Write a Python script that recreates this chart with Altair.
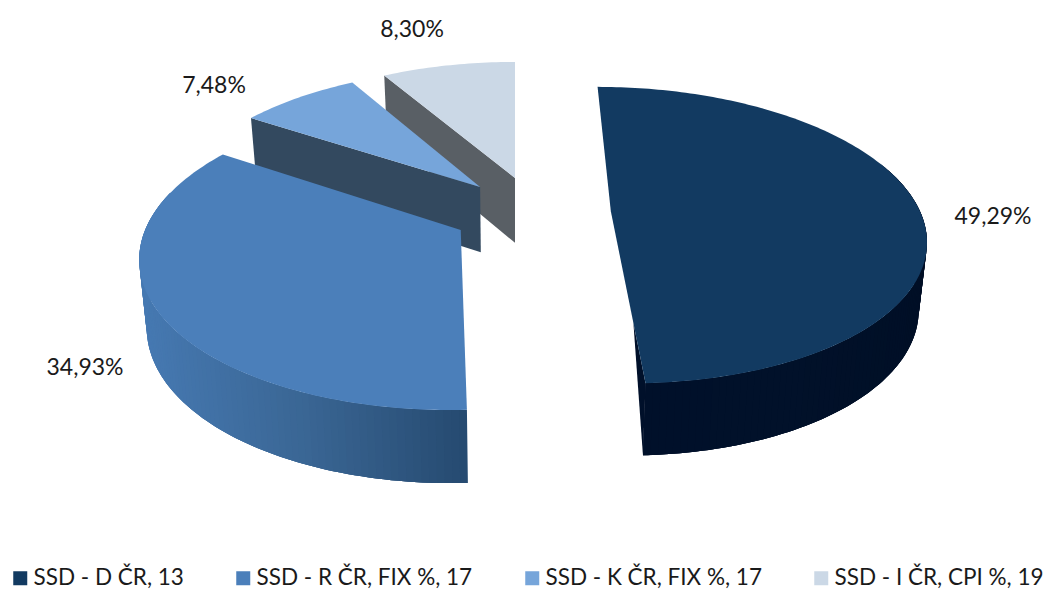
import math
import altair as alt
import pandas as pd

categories = ["SSD - D ČR, 13", "SSD - R ČR, FIX %, 17", "SSD - K ČR, FIX %, 17", "SSD - I ČR, CPI %, 19"]
shares = [49.29, 34.93, 7.48, 8.30]
share_labels = ["49,29%", "34,93%", "7,48%", "8,30%"]
top_colors = ["#123A61", "#4B7FBA", "#76A5DA", "#CBD8E6"]

# --- perspective model of the exploded 3D pie (layout, not data) ---
X0, YV, F, G, D = 515.0, -688.0, 1925.0, 5600.0, 6.227
DEPTH, BOTTOM_SHRINK = 165.0, 0.98
OFFSETS = [(0.31, 0.0), (-0.172, 0.127), (-0.116, -0.173), (0.0, -0.24)]
LABEL_ANCHORS = [(993, 217), (85, 368), (214, 86), (412, 30)]


def project(x, y, bottom=False):
    d = D - y
    sx = X0 + F * x / d
    sy = YV + G / d
    if bottom:
        sx = X0 + (sx - X0) * BOTTOM_SHRINK
        sy += DEPTH / math.sqrt(d)
    return [sx, sy]


def rim(i, deg, bottom=False):
    ox, oy = OFFSETS[i]
    t = math.radians(deg)
    return project(ox + math.sin(t), oy - math.cos(t), bottom)


def feature(ring, **props):
    ring = ring + [ring[0]]
    return {"type": "Feature", "geometry": {"type": "Polygon", "coordinates": [ring]}, "properties": props}


def mix(a, b, t):
    ca = [int(a[k:k + 2], 16) for k in (1, 3, 5)]
    cb = [int(b[k:k + 2], 16) for k in (1, 3, 5)]
    return "#" + "".join(f"{round(p + (q - p) * t):02x}" for p, q in zip(ca, cb))


edges, a = [], 0.0
for s in shares:
    edges.append((a, a + s * 3.6))
    a += s * 3.6


def flat_face(i, deg, color):
    ox, oy = OFFSETS[i]
    apex_t, apex_b = project(ox, oy), project(ox, oy, True)
    return feature([apex_t, rim(i, deg), rim(i, deg, True), apex_b], fill=color)


def sliver_face(i, deg, color, t=0.65):
    ox, oy = OFFSETS[i]
    apex, front = project(ox, oy), rim(i, deg)
    start = [apex[0] + (front[0] - apex[0]) * t, apex[1] + (front[1] - apex[1]) * t]
    return feature([start, front, rim(i, deg, True)], fill=color)


def outer_wall(i, lo, hi, c_left, c_mid, c_right, n=90):
    out = []
    step = (hi - lo) / n
    xs = [rim(i, lo + step * k)[0] for k in range(n + 1)]
    xmin, xmax = min(xs), max(xs)
    # painted in order, each strip reaching under the next, so no seams show
    for k in range(n):
        d1 = lo + step * k
        d2 = min(hi, d1 + 3 * step)
        t = (rim(i, d1 + step / 2)[0] - xmin) / (xmax - xmin)
        col = mix(c_left, c_mid, t * 2) if t < .5 else mix(c_mid, c_right, t * 2 - 1)
        ds = [d1 + (d2 - d1) * j / 3 for j in range(4)]
        ring = [rim(i, q) for q in ds] + [rim(i, q, True) for q in reversed(ds)]
        out.append(feature(ring, fill=col))
    return out


walls = []
walls.append(flat_face(3, edges[3][0], "#595F65"))
walls.append(flat_face(2, edges[2][0], "#33495F"))
walls += outer_wall(1, edges[1][0], 285, "#4679B2", "#3A6694", "#264A70")
walls.append(sliver_face(0, edges[0][1], "#00102A"))
walls += outer_wall(0, 70, edges[0][1], "#00102A", "#01112A", "#000F26")

tops = []
for i, cat in enumerate(categories):
    lo, hi = edges[i]
    n = max(8, int(hi - lo))
    ox, oy = OFFSETS[i]
    ring = [project(ox, oy)] + [rim(i, lo + (hi - lo) * k / n) for k in range(n + 1)]
    tops.append(feature(ring, category=cat))

proj = dict(type="identity", scale=1, translate=[-8, -8])

wall_layer = (
    alt.Chart(alt.Data(values=walls))
    .mark_geoshape(strokeWidth=0, opacity=1)
    .encode(fill=alt.Fill("properties.fill:N", scale=None))
    .project(**proj)
)

top_layer = (
    alt.Chart(alt.Data(values=tops))
    .mark_geoshape(strokeWidth=0, opacity=1)
    .encode(
        color=alt.Color(
            "properties.category:N",
            scale=alt.Scale(domain=categories, range=top_colors),
            legend=alt.Legend(
                title=None,
                orient="none",
                legendX=1,
                legendY=559,
                direction="horizontal",
                columns=4,
                gridAlign="none",
                columnPadding=48,
                symbolType="square",
                symbolSize=196,
                symbolStrokeWidth=0,
                labelFont="Lato",
                labelFontSize=22.5,
                labelColor="#1a1a1a",
                labelOffset=2,
                labelLimit=400,
            ),
        )
    )
    .project(**proj)
)

labels = pd.DataFrame(
    {
        "label": share_labels,
        "lon": [p[0] for p in LABEL_ANCHORS],
        "lat": [p[1] for p in LABEL_ANCHORS],
    }
)
text_layer = (
    alt.Chart(labels)
    .mark_text(font="Lato", fontSize=23, color="#1a1a1a", align="center", baseline="middle")
    .encode(longitude="lon:Q", latitude="lat:Q", text="label:N")
    .project(**proj)
)

chart = (
    alt.layer(wall_layer, top_layer, text_layer)
    .resolve_scale(color="independent", fill="independent")
    .properties(width=1044, height=584, padding=0, autosize=alt.AutoSizeParams(type="none"))
    .configure_view(stroke=None)
)

chart.save("out.html", embed_options={"renderer": "svg", "actions": False})
